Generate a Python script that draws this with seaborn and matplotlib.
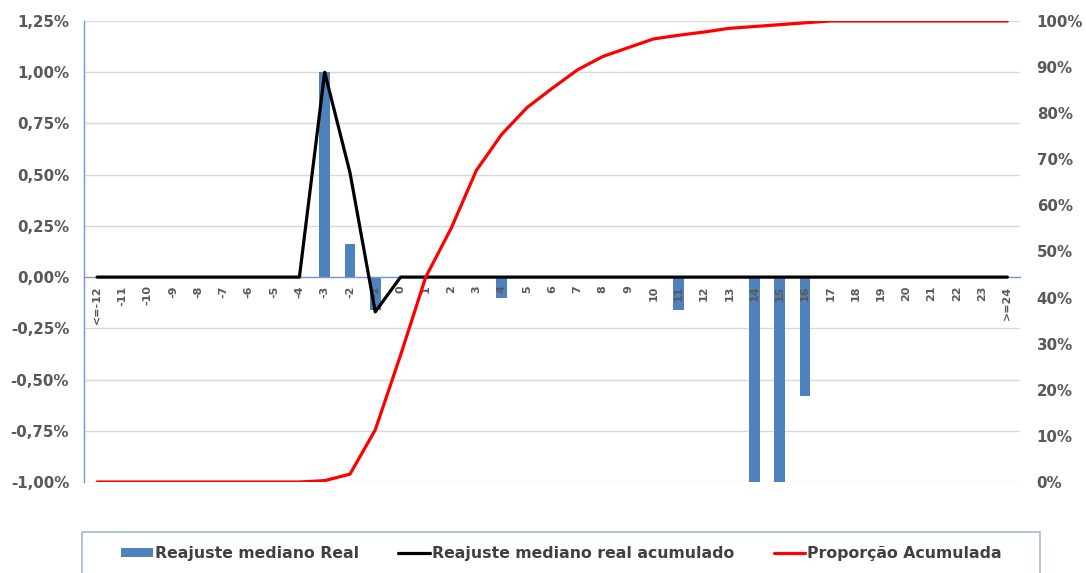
import numpy as np
import pandas as pd
import matplotlib
matplotlib.use("Agg")
import matplotlib.pyplot as plt
import seaborn as sns
from matplotlib.patches import Rectangle, Patch
from matplotlib.lines import Line2D

# Faixas de reajuste (p.p.)
categories = ["<=-12"] + [str(v) for v in range(-11, 24)] + [">=24"]

# Reajuste mediano real por faixa (%)
reajuste_real = [0, 0, 0, 0, 0, 0, 0, 0, 0,
                 1.00, 0.16, -0.16, 0, 0, 0, 0, -0.10, 0, 0, 0, 0, 0, 0,
                 -0.16, 0, 0, -1.00, -1.00, -0.58,
                 0, 0, 0, 0, 0, 0, 0, 0]

# Reajuste mediano real acumulado (%)
reajuste_acum = [0, 0, 0, 0, 0, 0, 0, 0, 0,
                 1.00, 0.51, -0.17, 0, 0, 0, 0, 0, 0, 0, 0, 0, 0, 0,
                 0, 0, 0, 0, 0, 0,
                 0, 0, 0, 0, 0, 0, 0, 0]

# Proporção acumulada (%)
proporcao_acum = [0, 0, 0, 0, 0, 0, 0, 0, 0,
                  0.3, 1.7, 11.3, 27.5, 44.5, 55.0, 67.6, 75.4, 81.2, 85.4,
                  89.4, 92.3, 94.2, 96.1, 96.9, 97.6, 98.4, 98.8, 99.2, 99.6,
                  100, 100, 100, 100, 100, 100, 100, 100]

left_ticks = [-1.00, -0.75, -0.50, -0.25, 0.0, 0.25, 0.50, 0.75, 1.00, 1.25]
left_labels = ["-1,00%", "-0,75%", "-0,50%", "-0,25%", "0,00%",
               "0,25%", "0,50%", "0,75%", "1,00%", "1,25%"]
right_ticks = list(range(0, 101, 10))
right_labels = [f"{v}%" for v in right_ticks]

labels = ["Reajuste mediano Real", "Reajuste mediano real acumulado",
          "Proporção Acumulada"]

df = pd.DataFrame({
    "pos": np.arange(len(categories)),
    "cat": categories,
    "real": reajuste_real,
    "acum": reajuste_acum,
    "prop": proporcao_acum,
})

sns.set_theme(style="white")
plt.rcParams["font.family"] = ["DejaVu Sans"]
plt.rcParams["font.weight"] = "bold"

BLUE = "#4f81bd"
GRAY = "#595959"
GRID = "#d9d9d9"
AXIS_BLUE = "#6f98cc"

fig = plt.figure(figsize=(10.86, 5.73), dpi=100)
ax = fig.add_axes([0.0778, 0.1588, 0.8614, 0.8046])

# Horizontal gridlines sit behind the bars; tick labels stay on top
for tick in left_ticks:
    if tick != 0:
        ax.axhline(tick, color=GRID, linewidth=1, zorder=0)

sns.barplot(data=df, x="pos", y="real", native_scale=True, width=0.43,
            color=BLUE, saturation=1, linewidth=0, ax=ax, zorder=1)
sns.lineplot(data=df, x="pos", y="acum", color="black", linewidth=2.3,
             ax=ax, zorder=3)

ax.set_xlim(-0.5, len(categories) - 0.5)
ax.set_ylim(-1.0, 1.25)
ax.set_yticks(left_ticks)
ax.set_yticklabels(left_labels)
ax.grid(False)
ax.set_axisbelow("line")

ax.set_xticks(df["pos"])
ax.set_xticklabels(categories)
ax.spines["bottom"].set_position(("data", 0))
for side in ("top", "right"):
    ax.spines[side].set_visible(False)
ax.spines["bottom"].set_color(AXIS_BLUE)
ax.spines["left"].set_color(AXIS_BLUE)
ax.spines["bottom"].set_linewidth(1)
ax.spines["left"].set_linewidth(1)
ax.spines["bottom"].set_zorder(1.2)
ax.tick_params(axis="y", length=0, pad=11, labelsize=10.8, labelcolor=GRAY)
ax.set_xlabel("")
ax.set_ylabel("")

ax2 = ax.twinx()
sns.lineplot(data=df, x="pos", y="prop", color="#ff0000", linewidth=2.3,
             ax=ax2, zorder=4)
ax2.set_ylim(0, 100)
ax2.set_yticks(right_ticks)
ax2.set_yticklabels(right_labels)
ax2.tick_params(axis="y", length=0, pad=12, labelsize=10.8, labelcolor=GRAY)
for side in ("top", "right", "left", "bottom"):
    ax2.spines[side].set_visible(False)
ax2.grid(False)
ax2.set_ylabel("")
ax2.set_xlabel("")

# Category labels hang vertically below the zero line
ax.tick_params(axis="x", length=0, pad=6, labelsize=8, labelcolor=GRAY,
               labelrotation=90)

# Legend underneath, inside a thin framed box
handles = [Patch(facecolor=BLUE, edgecolor="none"),
           Line2D([], [], color="black", linewidth=2.3),
           Line2D([], [], color="#ff0000", linewidth=2.3)]
fig.legend(handles, labels, ncol=3, loc="center left",
           bbox_to_anchor=(0.1045, 0.034), frameon=False,
           prop={"family": "DejaVu Sans", "weight": "bold", "size": 11.3},
           labelcolor="#404040",
           handlelength=2.0, handleheight=0.6,
           handletextpad=0.15, columnspacing=2.5, borderpad=0)
fig.add_artist(Rectangle((0.0755, -0.05), 0.882, 0.1216,
                         transform=fig.transFigure, fill=False,
                         edgecolor="#a3b8d8", linewidth=1.2))

fig.savefig("out.png", dpi=100)
